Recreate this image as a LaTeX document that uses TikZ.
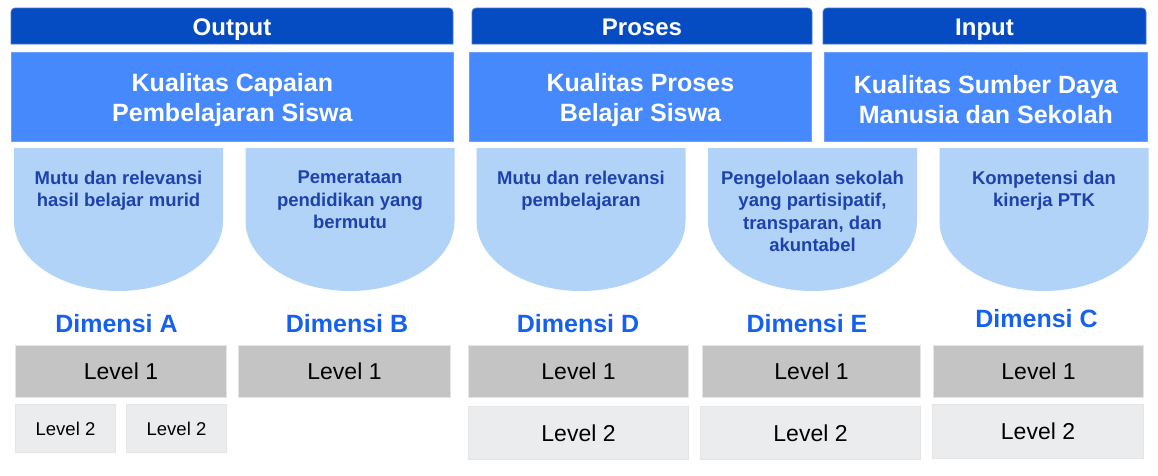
\documentclass[tikz,border=0pt]{standalone}
\usepackage{fontspec}
\setmainfont{Liberation Sans}
\usetikzlibrary{positioning}

\definecolor{kopfblau}{HTML}{054BC2}
\definecolor{hauptblau}{HTML}{4689FD}
\definecolor{schildblau}{HTML}{B2D3F8}
\definecolor{schildtext}{HTML}{1D42AE}
\definecolor{dimblau}{HTML}{1560EF}
\definecolor{stufeeins}{HTML}{C4C4C4}
\definecolor{stufezwei}{HTML}{EBECEE}

\tikzset{
	kopf/.style={fill=kopfblau, draw=kopfblau!75!white, line width=0.8pt},
	kopftext/.style={anchor=base, text=white, font=\bfseries\fontsize{24}{28}\selectfont},
	kualitas/.style={fill=hauptblau, draw=hauptblau!80!white, line width=0.8pt, inner sep=0pt,
		minimum height=89, anchor=north west},
	kualtext/.style={align=center, text=white, font=\bfseries\fontsize{25}{30}\selectfont},
	schild/.style={fill=schildblau},
	schildtext/.style={anchor=north, align=center, text=schildtext,
		font=\bfseries\fontsize{18.5}{22.5}\selectfont},
	dimensi/.style={anchor=base, text=dimblau, font=\bfseries\fontsize{25}{30}\selectfont},
	levelbox/.style={draw=white!90!black, line width=1pt, inner sep=0pt, anchor=north west,
		font=\fontsize{23}{27}\selectfont},
	leveleins/.style={levelbox, fill=stufeeins, minimum height=52},
	levelzwei/.style={levelbox, fill=stufezwei}
}

\begin{document}
\begin{tikzpicture}[x=1pt,y=-1pt]
	\useasboundingbox (0,0) rectangle (1158,475);
	% Kopfzeilen zeichnen
	\foreach \name/\xa/\xb/\txt in {out/11/453/Output, pro/472/812/Proses, inp/823/1146/Input} {
		\filldraw[kopf] (\xa,44) [rounded corners=4pt] -- (\xa,8) -- (\xb,8) [sharp corners] -- (\xb,44) -- cycle;
		\node[kopftext] (kopf-\name) at ({(\xa+\xb)/2},35.5) {\txt};
	}
	% Kualitas-Kaesten
	\node[kualitas, minimum width=442] (kual-out) at (11,52) {};
	\node[kualitas, minimum width=342] (kual-pro) at (469,52) {};
	\node[kualitas, minimum width=323] (kual-inp) at (824,52) {};
	\node[kualtext] (kualtext-out) at ([yshift=-3pt]kual-out.center) {Kualitas Capaian\\Pembelajaran Siswa};
	\node[kualtext] (kualtext-pro) at ([yshift=-3pt]kual-pro.center) {Kualitas Proses\\Belajar Siswa};
	\node[kualtext] (kualtext-inp) at ([yshift=-3pt]kual-inp.center) {Kualitas Sumber Daya\\Manusia dan Sekolah};
	% Schilde mit Text
	\foreach \name/\cx/\txt in {a/118.5/{Mutu dan relevansi\\hasil belajar murid},
			b/350/{Pemerataan\\pendidikan yang\\bermutu},
			d/581/{Mutu dan relevansi\\pembelajaran},
			e/812.5/{Pengelolaan sekolah\\yang partisipatif,\\transparan, dan\\akuntabel},
			c/1044/{Kompetensi dan\\kinerja PTK}} {
		\fill[schild] (\cx-104.5,148) -- (\cx+104.5,148) -- (\cx+104.5,221)
			arc[start angle=0, end angle=180, x radius=104.5, y radius=70] -- cycle;
		\node[schildtext] (schild-\name) at (\cx,167.5) {\txt};
	}
	% Dimensi beschriften
	\node[dimensi] (dim-a) at (116.5,332) {Dimensi A};
	\node[dimensi] (dim-b) at (347,332) {Dimensi B};
	\node[dimensi] (dim-d) at (578,332) {Dimensi D};
	\node[dimensi] (dim-e) at (807,332) {Dimensi E};
	\node[dimensi] (dim-c) at (1036.5,327) {Dimensi C};
	% Level 1
	\node[leveleins, minimum width=211] (lv1-a) at (15,345) {Level 1};
	\node[leveleins, minimum width=212] (lv1-b) at (238,345) {Level 1};
	\node[leveleins, minimum width=220] (lv1-d) at (468,345) {Level 1};
	\node[leveleins, minimum width=218] (lv1-e) at (702,345) {Level 1};
	\node[leveleins, minimum width=210] (lv1-c) at (933,345) {Level 1};
	% Level 2
	\node[levelzwei, minimum width=100, minimum height=48, font=\fontsize{18.5}{22}\selectfont] (lv2-a1) at (15,404) {Level 2};
	\node[levelzwei, minimum width=100, minimum height=48, font=\fontsize{18.5}{22}\selectfont] (lv2-a2) at (126,404) {Level 2};
	\node[levelzwei, minimum width=220, minimum height=53] (lv2-d) at (468,406) {Level 2};
	\node[levelzwei, minimum width=220, minimum height=53] (lv2-e) at (700,406) {Level 2};
	\node[levelzwei, minimum width=211, minimum height=54] (lv2-c) at (932,404) {Level 2};
\end{tikzpicture}
\end{document}
